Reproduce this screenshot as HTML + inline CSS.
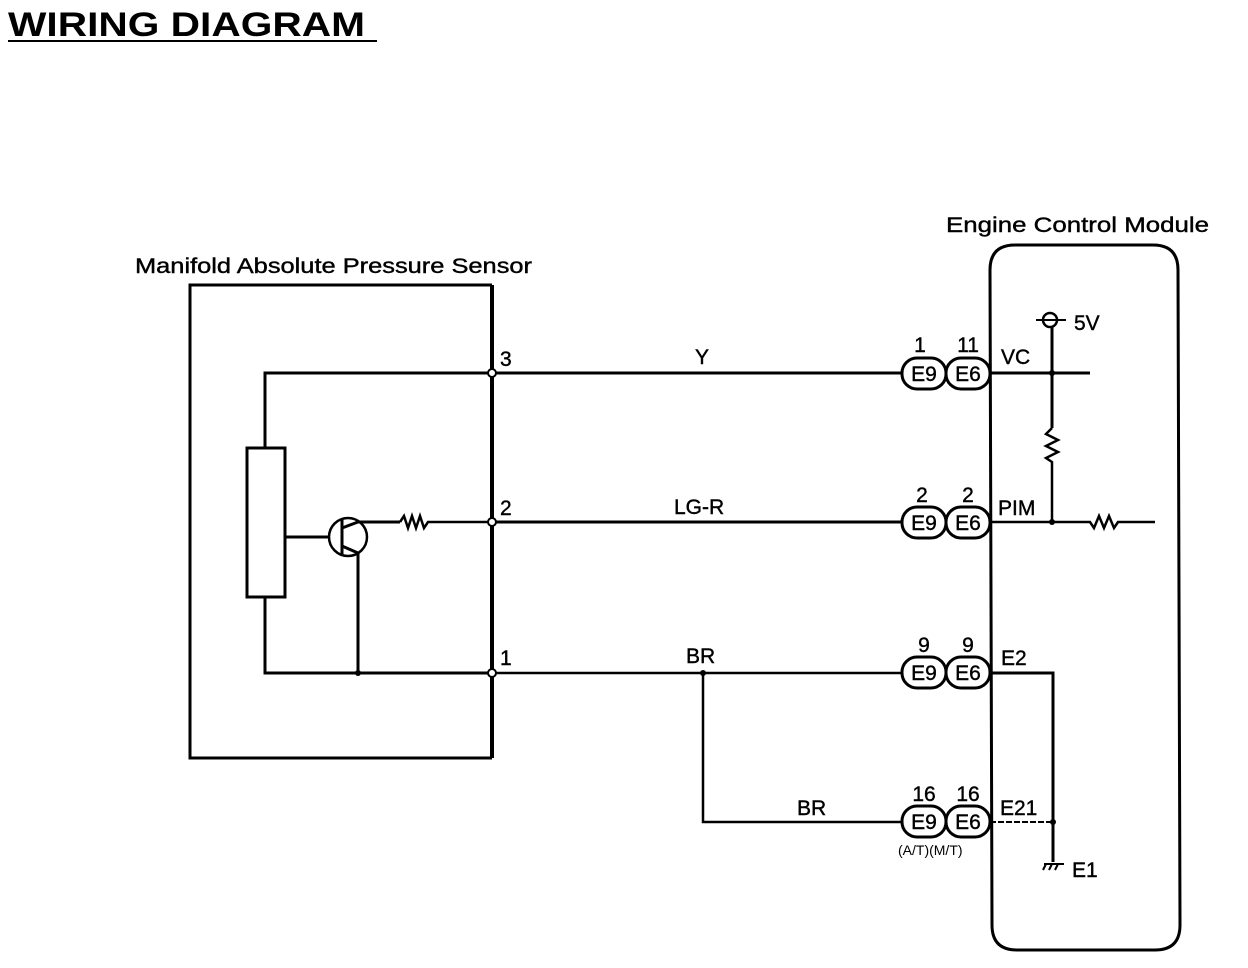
<!DOCTYPE html>
<html><head><meta charset="utf-8"><style>
html,body{margin:0;padding:0;background:#fff;}
svg{display:block;font-family:"Liberation Sans",sans-serif;}
</style></head><body>
<svg width="1248" height="968" viewBox="0 0 1248 968" xmlns="http://www.w3.org/2000/svg">
<text x="8" y="36" font-size="34" font-weight="bold" textLength="357" lengthAdjust="spacingAndGlyphs">WIRING DIAGRAM</text>
<line x1="8" y1="41" x2="377" y2="41" stroke="#000" stroke-width="2"/>
<g stroke="#000" fill="none" stroke-width="3">
<polyline points="492,285 190,285 190,758 492,758"/>
<line x1="492" y1="285" x2="492" y2="758" stroke-width="4"/>
<polyline points="492,373 265,373 265,448"/>
<rect x="247" y="448" width="38" height="149"/>
<polyline points="265,597 265,673 492,673"/>
<line x1="285" y1="537" x2="330" y2="537"/>
<circle cx="348" cy="537" r="19" stroke-width="2.5"/>
<line x1="342" y1="520" x2="342" y2="555"/>
<polyline points="342,528 358,522 400,522"/>
<polyline points="342,546 358,553 358,673"/>
<polyline points="400,522 404,516 408,528 412,516 416,528 420,516 424,528 428,522 492,522" stroke-width="2.5"/>
<line x1="492" y1="373" x2="903" y2="373"/>
<line x1="492" y1="522" x2="903" y2="522"/>
<line x1="492" y1="673" x2="903" y2="673" stroke-width="2.5"/>
<polyline points="703,673 703,822 903,822" stroke-width="2.5"/>
<g stroke-width="3">
<rect x="902" y="358" width="44" height="31" rx="15"/><rect x="946" y="358" width="44" height="31" rx="15"/>
<rect x="902" y="507" width="44" height="31" rx="15"/><rect x="946" y="507" width="44" height="31" rx="15"/>
<rect x="902" y="657" width="44" height="31" rx="15"/><rect x="946" y="657" width="44" height="31" rx="15"/>
<rect x="902" y="806" width="44" height="31" rx="15"/><rect x="946" y="806" width="44" height="31" rx="15"/>
</g>
<path d="M1015,245 L1153,245 Q1178,245 1178,270 L1180,925 Q1180,950 1155,950 L1017,950 Q992,950 992,925 L990,270 Q990,245 1015,245 Z" stroke-width="3"/>
<line x1="990" y1="373" x2="1090" y2="373"/>
<line x1="1052" y1="327" x2="1052" y2="428"/>
<polyline points="1052,428 1046,434 1058,440 1046,446 1058,452 1046,458 1052,462 1052,522" stroke-width="2.5"/>
<circle cx="1050" cy="320" r="7" stroke-width="2.5"/>
<line x1="1036" y1="320" x2="1066" y2="320" stroke-width="2"/>
<polyline points="990,522 1090,522 1094,528 1099,516 1104,528 1109,516 1114,528 1118,522 1155,522" stroke-width="2.5"/>
<polyline points="990,673 1053,673 1053,862" stroke-width="3"/>
<line x1="990" y1="822" x2="1053" y2="822" stroke-width="2" stroke-dasharray="6,2"/>
<line x1="1044" y1="864" x2="1064" y2="864" stroke-width="2"/>
<line x1="1046" y1="864" x2="1043" y2="870" stroke-width="2"/>
<line x1="1052" y1="864" x2="1049" y2="870" stroke-width="2"/>
<line x1="1058" y1="864" x2="1055" y2="870" stroke-width="2"/>
</g>
<g fill="#000">
<circle cx="703" cy="673" r="3"/><circle cx="358" cy="673" r="3"/>
<circle cx="1052" cy="373" r="3"/><circle cx="1052" cy="522" r="3"/><circle cx="1053" cy="822" r="3"/>
</g>
<g fill="#fff" stroke="#000" stroke-width="2">
<circle cx="492" cy="373" r="4"/><circle cx="492" cy="522" r="4"/><circle cx="492" cy="673" r="4"/>
</g>
<g font-size="21" fill="#000" stroke="#000" stroke-width="0.4">
<text x="135" y="273" textLength="397" lengthAdjust="spacingAndGlyphs">Manifold Absolute Pressure Sensor</text>
<text x="946" y="232" textLength="263" lengthAdjust="spacingAndGlyphs">Engine Control Module</text>
<text x="500" y="366">3</text><text x="500" y="515">2</text><text x="500" y="665">1</text>
<text x="695" y="364">Y</text><text x="674" y="514">LG-R</text>
<text x="686" y="663">BR</text><text x="797" y="815">BR</text>
<text x="1001" y="364">VC</text><text x="998" y="515">PIM</text>
<text x="1001" y="665">E2</text><text x="1000" y="815">E21</text>
<text x="1074" y="330">5V</text><text x="1072" y="877">E1</text>
<g text-anchor="middle">
<text x="920" y="352">1</text><text x="968" y="352">11</text>
<text x="922" y="502">2</text><text x="968" y="502">2</text>
<text x="924" y="652">9</text><text x="968" y="652">9</text>
<text x="924" y="801">16</text><text x="968" y="801">16</text>
<text x="924" y="381">E9</text><text x="968" y="381">E6</text>
<text x="924" y="530">E9</text><text x="968" y="530">E6</text>
<text x="924" y="680">E9</text><text x="968" y="680">E6</text>
<text x="924" y="829">E9</text><text x="968" y="829">E6</text>
</g>
</g>
<text x="898" y="855" font-size="14">(A/T)(M/T)</text>
</svg>
</body></html>
